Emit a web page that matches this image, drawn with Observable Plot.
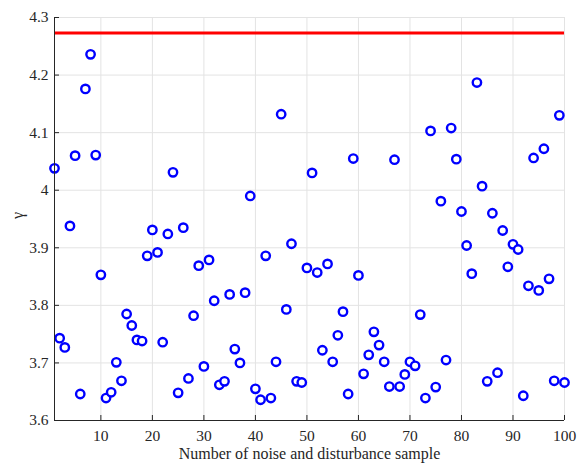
<!DOCTYPE html>
<html>
<head>
<meta charset="utf-8">
<script src="https://cdn.jsdelivr.net/npm/d3@7"></script>
<script src="https://cdn.jsdelivr.net/npm/@observablehq/plot@0.6"></script>
<style>
  body { margin: 0; background: #fff; }
  #chart svg { display: block; }
</style>
</head>
<body>
<div id="chart"></div>
<script>
const samples = d3.range(1, 101);
const gammaValues = [
  4.038, 3.743, 3.727, 3.938, 4.060, 3.646, 4.176, 4.236, 4.061, 3.853,
  3.639, 3.649, 3.701, 3.669, 3.785, 3.765, 3.740, 3.738, 3.886, 3.931,
  3.892, 3.736, 3.924, 4.031, 3.648, 3.935, 3.673, 3.782, 3.869, 3.694,
  3.879, 3.808, 3.662, 3.668, 3.819, 3.724, 3.700, 3.822, 3.990, 3.655,
  3.636, 3.886, 3.639, 3.702, 4.132, 3.793, 3.907, 3.668, 3.666, 3.865,
  4.030, 3.857, 3.722, 3.872, 3.702, 3.748, 3.789, 3.646, 4.055, 3.852,
  3.681, 3.714, 3.754, 3.731, 3.702, 3.659, 4.053, 3.659, 3.680, 3.702,
  3.695, 3.784, 3.639, 4.103, 3.658, 3.981, 3.705, 4.108, 4.054, 3.963,
  3.904, 3.855, 4.187, 4.007, 3.668, 3.960, 3.683, 3.930, 3.867, 3.906,
  3.897, 3.643, 3.834, 4.056, 3.826, 4.072, 3.846, 3.669, 4.130, 3.666
];
const bound = [4.273];
const xTicks = [10, 20, 30, 40, 50, 60, 70, 80, 90, 100];
const yTicks = [3.6, 3.7, 3.8, 3.9, 4.0, 4.1, 4.2, 4.3];
const xDomain = [1, 100];
const yDomain = [3.6, 4.3];
const xLabel = "Number of noise and disturbance sample";
const yLabel = "γ";

const data = samples.map((s, i) => ({sample: s, gamma: gammaValues[i]}));
const ink = "#262626";

const chart = Plot.plot({
  width: 580,
  height: 463,
  marginLeft: 54,
  marginRight: 16,
  marginTop: 17,
  marginBottom: 43,
  style: {fontFamily: "'Liberation Serif', serif", fontSize: "15px", color: ink, background: "white"},
  x: {domain: xDomain},
  y: {domain: yDomain},
  marks: [
    Plot.gridX(xTicks, {stroke: "#e3e3e3", strokeOpacity: 1, strokeWidth: 1}),
    Plot.gridY(yTicks, {stroke: "#e3e3e3", strokeOpacity: 1, strokeWidth: 1}),
    Plot.ruleY(bound, {stroke: "#ff0000", strokeWidth: 3}),
    Plot.dot(data, {x: "sample", y: "gamma", r: 4.2, stroke: "#0000ff", strokeWidth: 2.4, fill: "white"}),
    Plot.axisX(xTicks, {tickSize: -5, tickPadding: 14, stroke: ink, fill: ink, fontSize: 15.5, label: null}),
    Plot.axisY(yTicks, {tickSize: -5, tickPadding: 11, stroke: ink, fill: ink, fontSize: 15.5,
      tickFormat: d => String(+d.toFixed(1)), label: null}),
    Plot.text([xLabel], {frameAnchor: "bottom", lineAnchor: "middle", dy: 33.5, fontSize: 16, fill: ink}),
    Plot.text([yLabel], {frameAnchor: "left", rotate: -90, dx: -37, fontSize: 16, fill: ink}),
    Plot.ruleX([xDomain[0]], {stroke: ink, strokeWidth: 1}),
    Plot.ruleY([yDomain[0]], {stroke: ink, strokeWidth: 1})
  ]
});
document.getElementById("chart").appendChild(chart);
</script>
</body>
</html>
